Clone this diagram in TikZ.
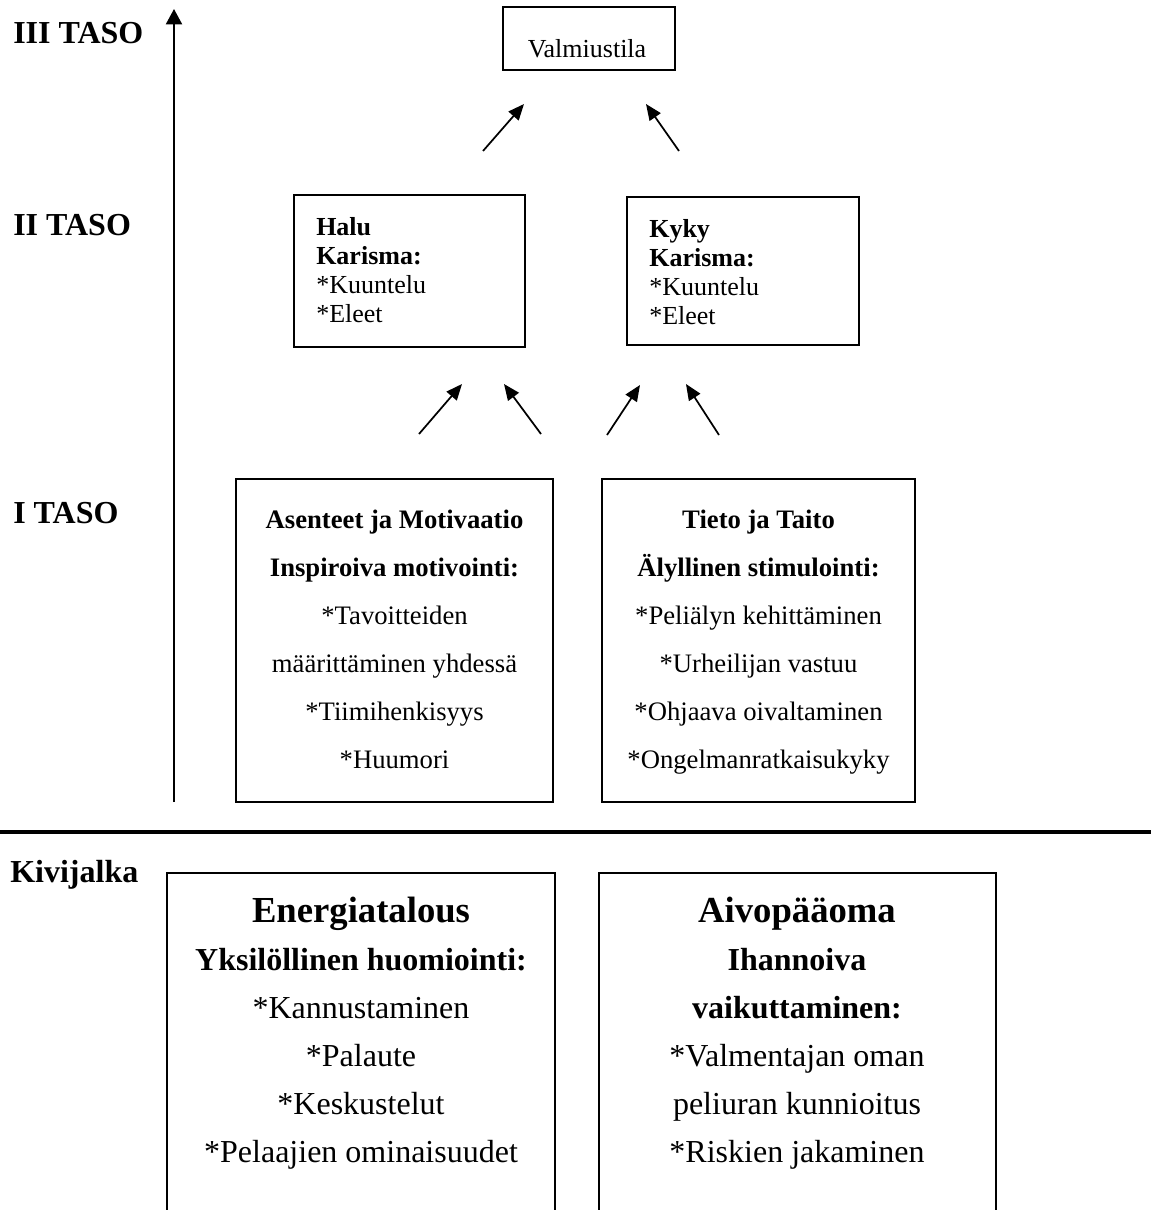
\documentclass[tikz,border=0pt]{standalone}
\usepackage{fontspec}
\setmainfont{Liberation Serif}
\usetikzlibrary{arrows.meta,fit}
\begin{document}
\begin{tikzpicture}[x=0.75pt,y=-0.75pt,
  lvl/.style={font=\fontsize{24}{28}\selectfont\bfseries,anchor=base west,inner sep=0pt},
  boxline/.style={draw,line width=1.4pt,inner sep=0pt},
  sm/.style={font=\fontsize{19.5}{23}\selectfont,inner sep=0pt},
  smb/.style={font=\fontsize{19.5}{23}\selectfont\bfseries,inner sep=0pt},
  md/.style={font=\fontsize{20}{24}\selectfont,anchor=base,inner sep=0pt},
  mdb/.style={font=\fontsize{20}{24}\selectfont\bfseries,anchor=base,inner sep=0pt},
  lg/.style={font=\fontsize{24}{28}\selectfont,anchor=base,inner sep=0pt},
  lgb/.style={font=\fontsize{24}{28}\selectfont\bfseries,anchor=base,inner sep=0pt},
  ttl/.style={font=\fontsize{27.5}{32}\selectfont\bfseries,anchor=base,inner sep=0pt},
  arr/.style={line width=1.3pt,-{Triangle[length=12pt,width=10pt]}},
  axisarr/.style={line width=1.5pt,-{Triangle[length=11.5pt,width=12pt]}},
  rule/.style={line width=2.4pt}
]
\useasboundingbox (0,0) rectangle (1151,1210);

% level labels
\node (l3) [lvl] at (13,43) {III TASO};
\node (l2) [lvl] at (13,235) {II TASO};
\node (l1) [lvl] at (13,523) {I TASO};
\node (lk) [lvl] at (10,882) {Kivijalka};

% vertical axis
\coordinate (axb) at (174,802);
\coordinate (axt) at (174,9);
\draw[axisarr] (axb) -- (axt);

% horizontal rule
\coordinate (hl) at (0,832);
\coordinate (hr) at (1151,832);
\draw[rule] (hl) -- (hr);

% III level box
\node (bValm) [boxline, fit={(503,7) (675,70)}] {};
\node (tValm) [sm,anchor=base] at (587,57) {Valmiustila};

% II level boxes
\node (bHalu) [boxline, fit={(294,195) (525,347)}] {};
\node (tH1) [smb,anchor=base west] at (316,235) {Halu};
\node (tH2) [smb,anchor=base west] at (316,264) {Karisma:};
\node (tH3) [sm,anchor=base west] at (316,293) {*Kuuntelu};
\node (tH4) [sm,anchor=base west] at (316,322) {*Eleet};

\node (bKyky) [boxline, fit={(627,197) (859,345)}] {};
\node (tK1) [smb,anchor=base west] at (649,237) {Kyky};
\node (tK2) [smb,anchor=base west] at (649,266) {Karisma:};
\node (tK3) [sm,anchor=base west] at (649,295) {*Kuuntelu};
\node (tK4) [sm,anchor=base west] at (649,324) {*Eleet};

% I level boxes
\node (bAs) [boxline, fit={(236,479) (553,802)}] {};
\node (tA1) [mdb] at (394.5,528) {Asenteet ja Motivaatio};
\node (tA2) [mdb] at (394.5,576) {Inspiroiva motivointi:};
\node (tA3) [md] at (394.5,624) {*Tavoitteiden};
\node (tA4) [md] at (394.5,672) {määrittäminen yhdessä};
\node (tA5) [md] at (394.5,720) {*Tiimihenkisyys};
\node (tA6) [md] at (394.5,768) {*Huumori};

\node (bTi) [boxline, fit={(602,479) (915,802)}] {};
\node (tT1) [mdb] at (758.5,528) {Tieto ja Taito};
\node (tT2) [mdb] at (758.5,576) {Älyllinen stimulointi:};
\node (tT3) [md] at (758.5,624) {*Peliälyn kehittäminen};
\node (tT4) [md] at (758.5,672) {*Urheilijan vastuu};
\node (tT5) [md] at (758.5,720) {*Ohjaava oivaltaminen};
\node (tT6) [md] at (758.5,768) {*Ongelmanratkaisukyky};

% arrows to III level
\coordinate (u1s) at (483,151); \coordinate (u1e) at (524,104);
\coordinate (u2s) at (679,151); \coordinate (u2e) at (646,104);
\draw[arr] (u1s) -- (u1e);
\draw[arr] (u2s) -- (u2e);

% arrows to II level
\coordinate (m1s) at (419,434); \coordinate (m1e) at (462,384);
\coordinate (m2s) at (541,434); \coordinate (m2e) at (504,384);
\coordinate (m3s) at (607,435); \coordinate (m3e) at (640,385);
\coordinate (m4s) at (719,435); \coordinate (m4e) at (686,384);
\draw[arr] (m1s) -- (m1e);
\draw[arr] (m2s) -- (m2e);
\draw[arr] (m3s) -- (m3e);
\draw[arr] (m4s) -- (m4e);

% foundation boxes (open at the bottom)
\coordinate (e1) at (167,1212); \coordinate (e2) at (555,873); \coordinate (e3) at (555,1212);
\draw[line width=1.2pt] (e1) |- (e2) -- (e3);
\coordinate (f1) at (599,1212); \coordinate (f2) at (996,873); \coordinate (f3) at (996,1212);
\draw[line width=1.2pt] (f1) |- (f2) -- (f3);

\node (tE1) [ttl] at (361,922) {Energiatalous};
\node (tE2) [lgb] at (361,970) {Yksilöllinen huomiointi:};
\node (tE3) [lg] at (361,1018) {*Kannustaminen};
\node (tE4) [lg] at (361,1066) {*Palaute};
\node (tE5) [lg] at (361,1114) {*Keskustelut};
\node (tE6) [lg] at (361,1162) {*Pelaajien ominaisuudet};

\node (tV1) [ttl] at (797,922) {Aivopääoma};
\node (tV2) [lgb] at (797,970) {Ihannoiva};
\node (tV3) [lgb] at (797,1018) {vaikuttaminen:};
\node (tV4) [lg] at (797,1066) {*Valmentajan oman};
\node (tV5) [lg] at (797,1114) {peliuran kunnioitus};
\node (tV6) [lg] at (797,1162) {*Riskien jakaminen};
\end{tikzpicture}
\end{document}
